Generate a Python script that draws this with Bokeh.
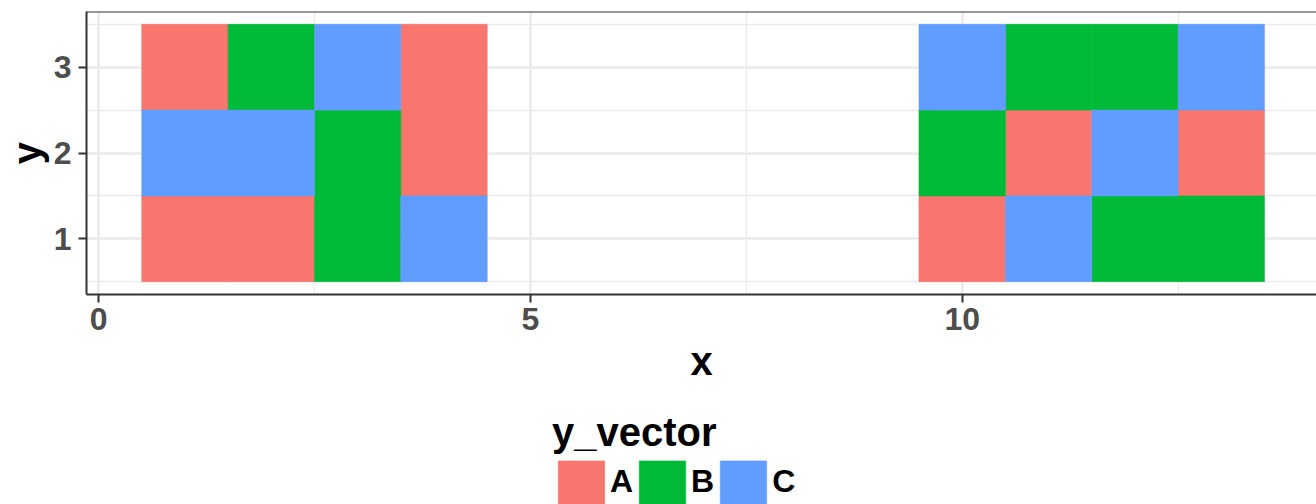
from bokeh.plotting import figure
from bokeh.layouts import column
from bokeh.models import (FixedTicker, Span, Legend, LegendItem, ColumnDataSource, Range1d)
from bokeh.embed import file_html
from bokeh.resources import INLINE

# ---- data ----
x_vals = [1, 1, 1, 2, 2, 2, 3, 3, 3, 4, 4, 4,
          10, 10, 10, 11, 11, 11, 12, 12, 12, 13, 13, 13]
y_vals = [1, 2, 3, 1, 2, 3, 1, 2, 3, 1, 2, 3,
          1, 2, 3, 1, 2, 3, 1, 2, 3, 1, 2, 3]
y_vector = ["A", "C", "A", "A", "C", "B", "B", "B", "C", "C", "A", "A",
            "A", "B", "C", "C", "A", "B", "B", "C", "B", "B", "A", "C"]
categories = ["A", "B", "C"]
colors = ["#F8766D", "#00BA38", "#619CFF"]
x_ticks = [0, 5, 10]
y_ticks = [1, 2, 3]

FONT = "Liberation Sans"
AX = "#333333"
GRID = "#EBEBEB"

p = figure(width=1316, height=400, output_backend="svg", toolbar_location=None,
           x_range=Range1d(-0.14, 14.103), y_range=Range1d(0.35, 3.65),
           min_border_left=86, min_border_right=0, min_border_top=11,
           min_border_bottom=106)
p.outline_line_color = None
p.background_fill_color = "white"
p.border_fill_color = "white"

# axes
p.xaxis.ticker = FixedTicker(ticks=x_ticks, minor_ticks=[2.5, 7.5, 12.5])
p.yaxis.ticker = FixedTicker(ticks=y_ticks, minor_ticks=[0.5, 1.5, 2.5, 3.5])
for ax in (p.xaxis[0], p.yaxis[0]):
    ax.axis_line_color = AX
    ax.axis_line_width = 2
    ax.major_tick_line_color = AX
    ax.major_tick_line_width = 2
    ax.major_tick_out = 8
    ax.major_tick_in = 0
    ax.minor_tick_line_color = None
    ax.major_label_text_font = FONT
    ax.major_label_text_font_style = "bold"
    ax.major_label_text_font_size = "32px"
    ax.major_label_text_color = "#4D4D4D"
    ax.axis_label_text_font = FONT
    ax.axis_label_text_font_style = "bold"
    ax.axis_label_text_font_size = "40px"
    ax.axis_label_text_color = "black"
p.xaxis.axis_label = "x"
p.yaxis.axis_label = "y"
p.xaxis.major_label_standoff = 5
p.xaxis.axis_label_standoff = 6
p.yaxis.major_label_standoff = 7
p.yaxis.axis_label_standoff = 2

# grid
for g in (p.xgrid[0], p.ygrid[0]):
    g.grid_line_color = GRID
    g.grid_line_width = 2.5
    g.minor_grid_line_color = GRID
    g.minor_grid_line_width = 1.3

# tiles
for cat, col in zip(categories, colors):
    xs = [x for x, c in zip(x_vals, y_vector) if c == cat]
    ys = [y for y, c in zip(y_vals, y_vector) if c == cat]
    src = ColumnDataSource(dict(x=xs, y=ys))
    p.rect(x="x", y="y", width=1, height=1, source=src,
           fill_color=col, line_color=col, line_width=0.6)

# top border
p.add_layout(Span(location=3.65, dimension="width", line_color=AX, line_width=2))

# ---- legend strip ----
p2 = figure(width=1316, height=104, output_backend="svg", toolbar_location=None,
            x_axis_type=None, y_axis_type=None,
            x_range=Range1d(0, 1), y_range=Range1d(0, 1),
            min_border_left=0, min_border_right=0, min_border_top=0, min_border_bottom=0)
p2.outline_line_color = None
p2.grid.visible = False
p2.background_fill_color = "white"
p2.border_fill_color = "white"
leg_renderers = []
for cat, col in zip(categories, colors):
    # legend-key proxies placed outside the visible range
    r = p2.rect(x=[-10], y=[-10], width=1, height=1, fill_color=col,
                line_color=col, line_width=0.6)
    leg_renderers.append(r)

legend = Legend(items=[LegendItem(label=c, renderers=[r]) for c, r in zip(categories, leg_renderers)],
                orientation="horizontal", location=(466, -4.6),
                title="y_vector", title_text_font=FONT, title_text_font_style="bold",
                title_text_font_size="40px", title_text_color="black", title_standoff=-4,
                label_text_font=FONT, label_text_font_style="bold",
                label_text_font_size="32px", label_text_color="black",
                glyph_width=58, glyph_height=54, label_standoff=0, spacing=0,
                padding=0, margin=0, border_line_color=None,
                background_fill_alpha=0)
p2.add_layout(legend, "center")

open("out.html", "w").write(file_html(column(p, p2, spacing=0), INLINE))
